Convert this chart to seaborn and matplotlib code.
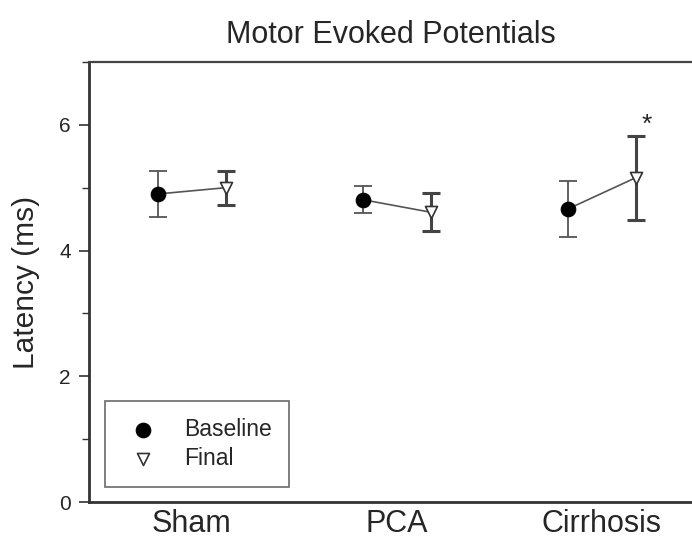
import numpy as np
import pandas as pd
import matplotlib
matplotlib.use("Agg")
import matplotlib.pyplot as plt
import seaborn as sns
from matplotlib.ticker import MultipleLocator

# ---- data ----
groups = ["Sham", "PCA", "Cirrhosis"]
baseline_mean = [4.90, 4.81, 4.66]
baseline_err = [0.36, 0.21, 0.44]
final_mean = [5.00, 4.61, 5.16]
final_err = [0.27, 0.30, 0.67]
y_ticks = [0, 2, 4, 6]

sns.set_theme(style="ticks")
plt.rcParams["font.family"] = ["Liberation Sans", "DejaVu Sans"]
text_col = "#262626"

rows = []
for i, g in enumerate(groups):
    rows.append(dict(group=g, time="Baseline", pos=i - 0.166, mean=baseline_mean[i], err=baseline_err[i]))
    rows.append(dict(group=g, time="Final", pos=i + 0.166, mean=final_mean[i], err=final_err[i]))
df = pd.DataFrame(rows)

fig = plt.figure(figsize=(6.92, 5.43), dpi=100)
ax = fig.add_axes([89 / 692, 1 - 502 / 543, 1 - 89 / 692, (502 - 62) / 543])

# connecting lines within group
sns.lineplot(data=df, x="pos", y="mean", units="group", estimator=None,
             color="#555555", linewidth=1.2, ax=ax, legend=False, sort=True)

# error bars
b = df[df.time == "Baseline"]
f = df[df.time == "Final"]
ax.errorbar(b["pos"], b["mean"], yerr=b["err"], fmt="none", ecolor="#555555",
            elinewidth=1.3, capsize=6.5, capthick=1.3, zorder=3)
ax.errorbar(f["pos"], f["mean"], yerr=f["err"], fmt="none", ecolor="#444444",
            elinewidth=2.2, capsize=6.5, capthick=2.2, zorder=3)

# markers
sns.scatterplot(data=b, x="pos", y="mean", marker="o", s=110, color="black",
                edgecolor="black", linewidth=0.8, ax=ax, zorder=5, label="Baseline")
sns.scatterplot(data=f, x="pos", y="mean", marker="v", s=75, facecolor="white",
                edgecolor="#333333", linewidth=1.2, ax=ax, zorder=5, label="Final")

# significance asterisk
cf = f[f.group == "Cirrhosis"].iloc[0]
ax.annotate("*", xy=(cf["pos"], cf["mean"] + cf["err"]), xytext=(8, -1),
            textcoords="offset points", ha="center", va="bottom",
            fontsize=19, color=text_col)

ax.set_xlim(-0.5, 2.44)
ax.set_ylim(0, 7)
ax.set_xticks(range(len(groups)))
ax.set_xticklabels(groups, fontsize=22, color=text_col)
ax.set_yticks(y_ticks)
ax.set_yticklabels([str(t) for t in y_ticks], fontsize=15, color=text_col)
ax.yaxis.set_minor_locator(MultipleLocator(1))
ax.tick_params(axis="x", length=0, pad=5)
ax.tick_params(axis="y", which="major", length=7, width=1.2, pad=6, color="#333333")
ax.tick_params(axis="y", which="minor", length=5, width=1.0, color="#333333")
ax.set_xlabel("")
ax.set_ylabel("Latency (ms)", fontsize=21.5, color=text_col, labelpad=14)
ax.set_title("Motor Evoked Potentials", fontsize=22, color=text_col, pad=14)

for side in ["left", "bottom"]:
    ax.spines[side].set_linewidth(2.0)
    ax.spines[side].set_color("#333333")
ax.spines["top"].set_linewidth(1.6)
ax.spines["top"].set_color("#444444")
ax.spines["right"].set_visible(False)

leg = ax.legend(loc="lower left", bbox_to_anchor=(16 / 603, 15 / 440), frameon=True,
                fancybox=False, fontsize=16.5, handletextpad=0.9, borderpad=0.75,
                borderaxespad=0, labelspacing=0.25, handlelength=1.8)
leg.get_frame().set_edgecolor("#444444")
leg.get_frame().set_linewidth(1.2)
for t in leg.get_texts():
    t.set_color(text_col)

fig.savefig("out.png", dpi=100)
